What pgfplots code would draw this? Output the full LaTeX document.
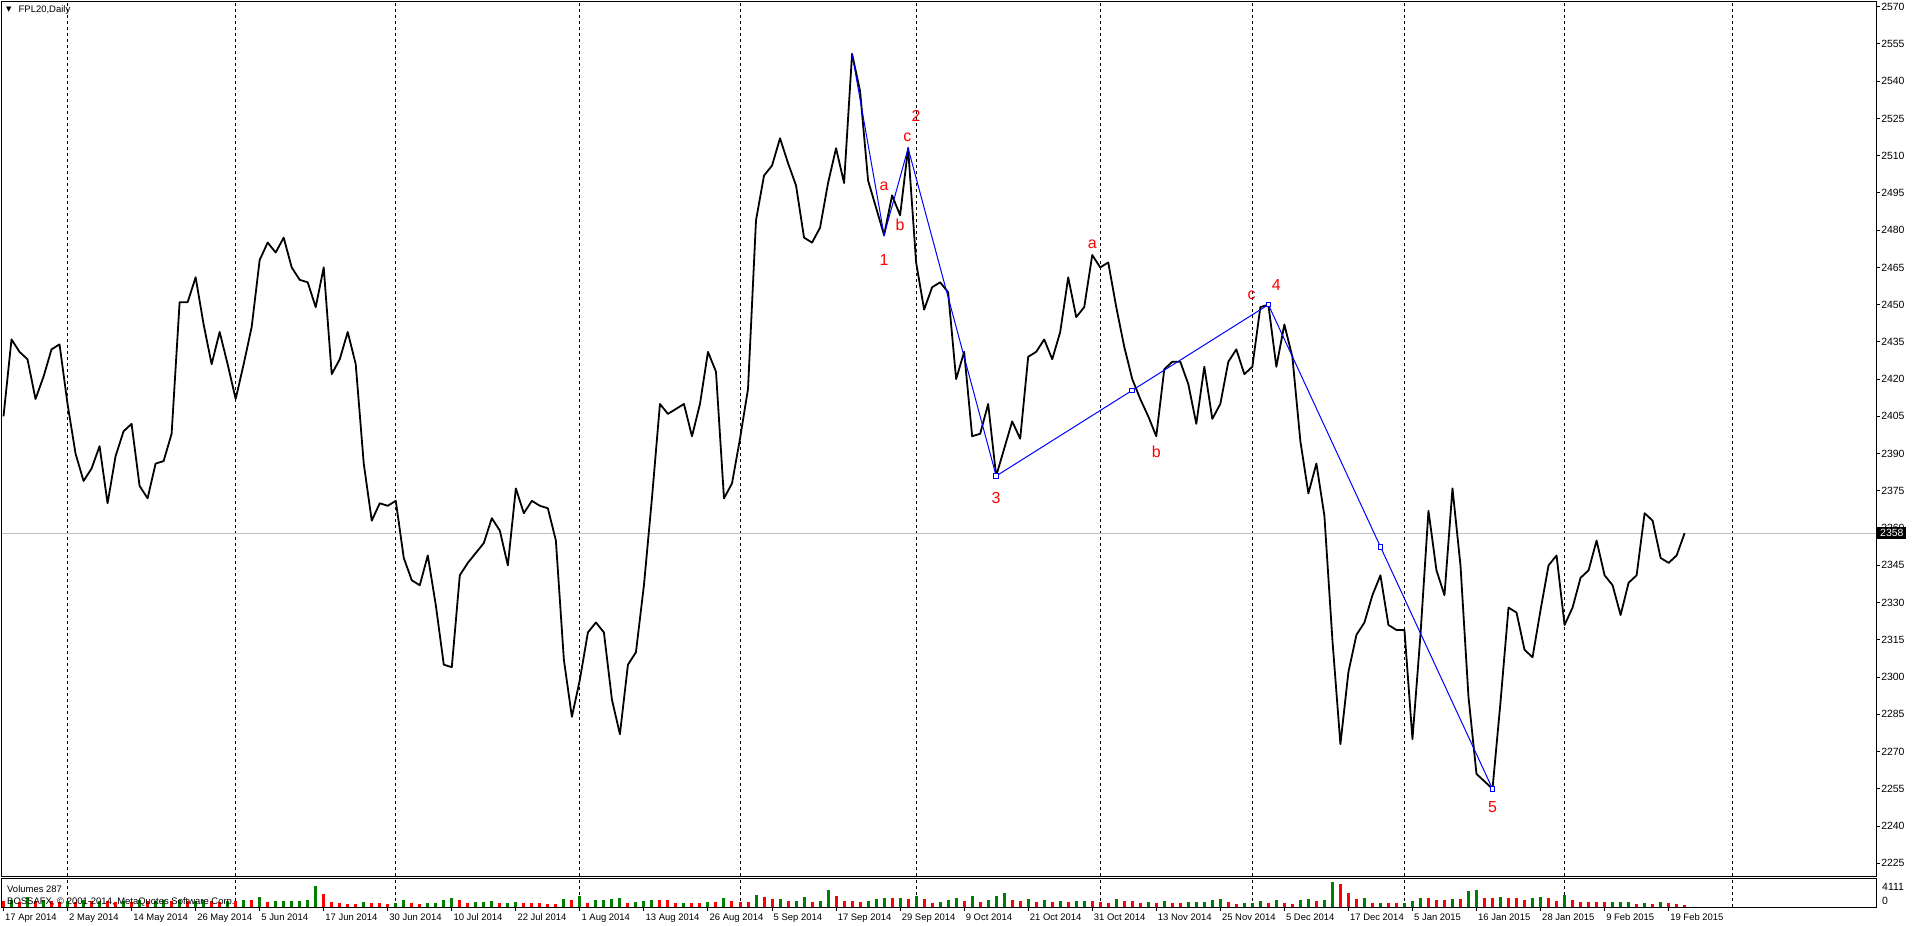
\documentclass[border=0pt]{standalone}
\usepackage{fontspec}
\setmainfont{Liberation Sans}
\newfontfamily\symfont{DejaVu Sans}
\usepackage{pgfplots}
\pgfplotsset{compat=1.18}

\definecolor{mtgreen}{RGB}{0,128,0}
\definecolor{mtred}{RGB}{255,0,0}
\definecolor{mtblue}{RGB}{0,0,255}
\definecolor{mtsilver}{RGB}{192,192,192}

\newcommand{\axfont}{\fontsize{9.5}{10}\selectfont}
\newcommand{\pxfont}{\fontsize{10.5}{11}\selectfont}
\newcommand{\wavefont}{\fontsize{16}{16}\selectfont}

\begin{document}
\begin{tikzpicture}[x=1bp,y=1bp]
\path[use as bounding box] (0,0) rectangle (1916,926);

% price pane (daily closes)
\begin{axis}[
  at={(1.5bp,49.5bp)}, anchor=south west,
  scale only axis, width=1874.5bp, height=875bp,
  xmin=-0.25, xmax=233.91, ymin=2219.7, ymax=2572.1,
  axis line style={line width=1bp},
  xtick={8,29,49,72,92,114,137,156,175,195,216},
  xticklabels={},
  xmajorgrids,
  grid style={black, line width=0.8bp, dash pattern=on 3bp off 3bp},
  xtick style={draw=none},
  ytick={2225,2240,...,2570},
  ytick pos=right,
  tick align=outside,
  ytick style={black, line width=1bp},
  major tick length=4bp,
  yticklabel style={font=\pxfont, anchor=west, inner xsep=1bp},
  /pgf/number format/assume math mode=true,
  /pgf/number format/1000 sep={},
]
\addplot[mtsilver, line width=1bp] coordinates {(-0.25,2358) (233.91,2358)};

\addplot[black, line width=1.8bp, line join=round] coordinates {
(0,2405) (1,2436) (2,2431) (3,2428) (4,2412) (5,2421) (6,2432) (7,2434) (8,2410) (9,2390)
(10,2379) (11,2384) (12,2393) (13,2370) (14,2389) (15,2399) (16,2402) (17,2377) (18,2372) (19,2386)
(20,2387) (21,2398) (22,2451) (23,2451) (24,2461) (25,2442) (26,2426) (27,2439) (28,2426) (29,2412)
(30,2426) (31,2441) (32,2468) (33,2475) (34,2471) (35,2477) (36,2465) (37,2460) (38,2459) (39,2449)
(40,2465) (41,2422) (42,2428) (43,2439) (44,2426) (45,2386) (46,2363) (47,2370) (48,2369) (49,2371)
(50,2348) (51,2339) (52,2337) (53,2349) (54,2329) (55,2305) (56,2304) (57,2341) (58,2346) (59,2350)
(60,2354) (61,2364) (62,2359) (63,2345) (64,2376) (65,2366) (66,2371) (67,2369) (68,2368) (69,2355)
(70,2307) (71,2284) (72,2299) (73,2318) (74,2322) (75,2318) (76,2291) (77,2277) (78,2305) (79,2310)
(80,2337) (81,2372) (82,2410) (83,2406) (84,2408) (85,2410) (86,2397) (87,2410) (88,2431) (89,2423)
(90,2372) (91,2378) (92,2396) (93,2416) (94,2484) (95,2502) (96,2506) (97,2517) (98,2507) (99,2498)
(100,2477) (101,2475) (102,2481) (103,2499) (104,2513) (105,2499) (106,2551) (107,2536) (108,2500) (109,2489)
(110,2478) (111,2494) (112,2486) (113,2513) (114,2467) (115,2448) (116,2457) (117,2459) (118,2455) (119,2420)
(120,2431) (121,2397) (122,2398) (123,2410) (124,2381) (125,2392) (126,2403) (127,2396) (128,2429) (129,2431)
(130,2436) (131,2428) (132,2439) (133,2461) (134,2445) (135,2449) (136,2470) (137,2465) (138,2467) (139,2449)
(140,2433) (141,2420) (142,2412) (143,2405) (144,2397) (145,2424) (146,2427) (147,2427) (148,2418) (149,2402)
(150,2425) (151,2404) (152,2410) (153,2427) (154,2432) (155,2422) (156,2425) (157,2449) (158,2450) (159,2425)
(160,2442) (161,2429) (162,2395) (163,2374) (164,2386) (165,2365) (166,2315) (167,2273) (168,2302) (169,2317)
(170,2322) (171,2333) (172,2341) (173,2321) (174,2319) (175,2319) (176,2275) (177,2317) (178,2367) (179,2343)
(180,2333) (181,2376) (182,2345) (183,2292) (184,2261) (185,2258) (186,2255) (187,2290) (188,2328) (189,2326)
(190,2311) (191,2308) (192,2327) (193,2345) (194,2349) (195,2321) (196,2328) (197,2340) (198,2343) (199,2355)
(200,2341) (201,2337) (202,2325) (203,2338) (204,2341) (205,2366) (206,2363) (207,2348) (208,2346) (209,2349)
(210,2358)
};

% wave count lines
\addplot[mtblue, line width=1bp] coordinates {
(106,2551) (110,2478) (113,2513) (124,2381) (158,2450) (186,2255)
};
\addplot[mtblue, only marks, mark=square*, mark size=2.3bp,
  mark options={fill=white, line width=1bp}] coordinates {
(124,2381) (141,2415.5) (158,2450) (172,2352.5) (186,2255)
};

\node[mtred, font=\wavefont] at (axis cs:110,2497.8) {a};
\node[mtred, font=\wavefont] at (axis cs:112,2482.3) {b};
\node[mtred, font=\wavefont] at (axis cs:110,2467.9) {1};
\node[mtred, font=\wavefont] at (axis cs:112.9,2517.5) {c};
\node[mtred, font=\wavefont] at (axis cs:114,2526.2) {2};
\node[mtred, font=\wavefont] at (axis cs:124,2372.0) {3};
\node[mtred, font=\wavefont] at (axis cs:136,2474.2) {a};
\node[mtred, font=\wavefont] at (axis cs:144,2390.8) {b};
\node[mtred, font=\wavefont] at (axis cs:155.9,2453.8) {c};
\node[mtred, font=\wavefont] at (axis cs:159,2457.8) {4};
\node[mtred, font=\wavefont] at (axis cs:186,2247.7) {5};
\end{axis}

% volume pane
\begin{axis}[
  at={(1.5bp,18.5bp)}, anchor=south west,
  scale only axis, width=1874.5bp, height=29bp,
  xmin=-0.25, xmax=233.91, ymin=-132, ymax=4637,
  axis line style={line width=1bp},
  ytick=\empty,
  xtick={0,8,...,208},
  xticklabels={17 Apr 2014, 2 May 2014, 14 May 2014, 26 May 2014, 5 Jun 2014,
    17 Jun 2014, 30 Jun 2014, 10 Jul 2014, 22 Jul 2014, 1 Aug 2014, 13 Aug 2014,
    26 Aug 2014, 5 Sep 2014, 17 Sep 2014, 29 Sep 2014, 9 Oct 2014, 21 Oct 2014,
    31 Oct 2014, 13 Nov 2014, 25 Nov 2014, 5 Dec 2014, 17 Dec 2014, 5 Jan 2015,
    16 Jan 2015, 28 Jan 2015, 9 Feb 2015, 19 Feb 2015},
  xtick pos=bottom, tick align=outside, major tick length=4bp,
  xtick style={black, line width=1bp},
  xticklabel style={font=\axfont, anchor=north west, inner sep=0pt, xshift=1.5bp, yshift=-2bp},
  extra x ticks={8,29,49,72,92,114,137,156,175,195,216},
  extra x tick labels={},
  extra x tick style={grid=major, major tick length=0pt},
  grid style={black, line width=0.8bp, dash pattern=on 3bp off 3bp},
]
\addplot[ycomb, mtgreen, line width=3bp] coordinates {
(1,1069) (3,1644) (5,1069) (8,986) (10,1069) (12,986) (15,986) (17,1069) (19,986) (20,1069)
(22,1069) (24,986) (25,1069) (28,986) (30,1101) (32,1529) (34,937) (35,954) (36,970) (37,986)
(38,1101) (39,3403) (45,822) (49,658) (50,1101) (53,543) (54,658) (55,1101) (56,1430) (59,707)
(60,740) (61,937) (63,658) (64,707) (70,1200) (72,1759) (74,1101) (75,1118) (76,1282) (77,1348)
(79,707) (80,986) (81,1101) (85,690) (88,773) (90,1430) (94,1923) (97,1233) (99,1019) (100,1529)
(102,986) (103,2745) (108,986) (109,1200) (110,1365) (112,1430) (114,1759) (117,822) (118,1101) (119,1430)
(121,1759) (123,1101) (124,1808) (125,2187) (128,1200) (130,1101) (132,855) (134,937) (135,954) (139,1266)
(143,773) (145,904) (148,707) (149,723) (150,740) (151,1101) (152,1266) (155,608) (156,625) (157,937)
(159,1101) (162,1101) (163,1266) (165,1101) (166,4111) (170,1430) (172,674) (175,658) (176,937) (177,1430)
(181,1266) (183,2581) (184,2745) (187,1529) (191,1430) (192,1644) (195,1923) (201,756) (202,773) (203,789)
(205,608) (207,773)
};
\addplot[ycomb, mtred, line width=3bp] coordinates {
(0,937) (2,822) (4,986) (6,904) (7,740) (9,822) (11,904) (13,904) (14,740) (16,822)
(18,904) (21,904) (23,904) (26,904) (27,822) (29,904) (31,1036) (33,707) (40,2088) (41,822)
(42,543) (43,444) (44,378) (46,658) (47,543) (48,378) (51,658) (52,378) (57,1101) (58,543)
(62,543) (65,658) (66,625) (67,543) (68,493) (69,460) (71,1151) (73,658) (78,658) (82,1069)
(83,1036) (84,658) (86,658) (87,543) (89,740) (91,986) (92,822) (93,789) (95,1644) (96,1200)
(98,986) (101,822) (104,1808) (105,986) (106,954) (107,822) (111,1348) (113,1200) (115,1266) (116,658)
(120,937) (122,773) (126,1101) (127,986) (129,707) (131,822) (133,822) (136,921) (137,707) (138,543)
(140,937) (141,904) (142,658) (144,658) (146,658) (147,608) (153,773) (154,493) (158,608) (160,658)
(161,444) (164,937) (167,3732) (168,2187) (169,1266) (171,658) (173,608) (174,592) (178,1397) (179,1101)
(180,1085) (182,1249) (185,1430) (186,1414) (188,1480) (189,1430) (190,1101) (193,1430) (194,937) (196,1101)
(197,773) (198,756) (199,740) (200,723) (204,493) (206,493) (208,608) (209,493) (210,287)
};
\end{axis}

% chart title and pane captions
\node[anchor=west, inner sep=0pt, font=\symfont\fontsize{7}{7}\selectfont] at (6,916) {▼};
\node[anchor=west, inner sep=0pt, font=\axfont] at (18.5,916) {FPL20,Daily};
\node[anchor=west, inner sep=0pt, font=\axfont] at (7,37.3) {Volumes 287};
\node[anchor=west, inner sep=0pt, font=\axfont] at (7,24.3) {BOSSAFX, © 2001-2014, MetaQuotes Software Corp.};
\node[anchor=west, inner sep=0pt, font=\pxfont] at (1882,39) {4111};
\node[anchor=west, inner sep=0pt, font=\pxfont] at (1882,25) {0};
% current price tag
\node[anchor=west, fill=black, text=white, inner xsep=3bp, inner ysep=2bp, font=\pxfont] at (1877,393) {2358};
\end{tikzpicture}
\end{document}
